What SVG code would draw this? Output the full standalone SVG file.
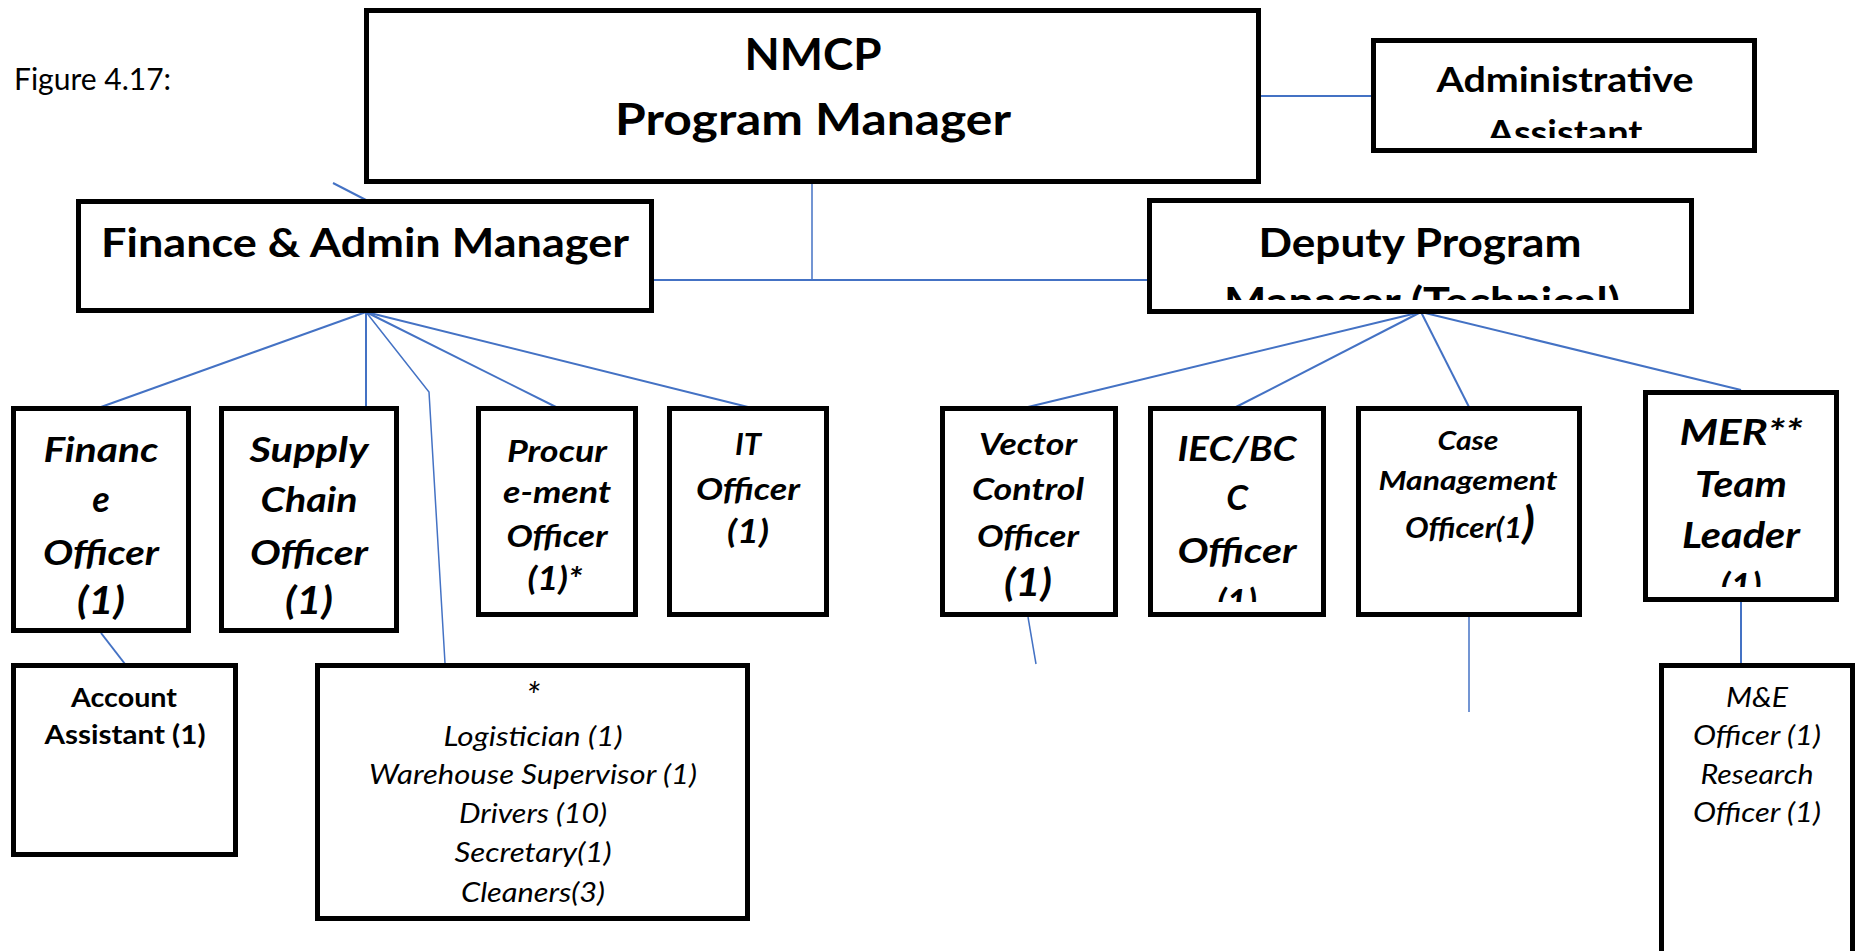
<svg xmlns="http://www.w3.org/2000/svg" width="1859" height="951" viewBox="0 0 1859 951">
<style>
.box{fill:#fff;stroke:#000;stroke-width:5}
.c{stroke:#4472C4;stroke-width:2;fill:none}
text{font-family:Lato,"Liberation Sans",sans-serif;fill:#000;text-anchor:middle}
.b{font-weight:700}
.bi{font-weight:700;font-style:italic}
.i{font-style:italic}
</style>
<defs>
<clipPath id="clipAdmin"><rect x="1376" y="43" width="376" height="95"/></clipPath>
<clipPath id="clipDeputy"><rect x="1152" y="203" width="537" height="97"/></clipPath>
<clipPath id="clipIEC"><rect x="1153" y="411" width="168" height="191"/></clipPath>
<clipPath id="clipMER"><rect x="1648" y="395" width="186" height="192"/></clipPath>
</defs>
<rect width="1859" height="951" fill="#fff"/>
<text x="14" y="90" style="text-anchor:start;font-size:30px">Figure 4.17:</text>
<g id="connectors">
<line class="c" x1="1261" y1="96" x2="1371" y2="96"/>
<line class="c" x1="333" y1="183" x2="366" y2="200"/>
<line class="c" x1="812" y1="184" x2="812" y2="280" style="stroke-width:1.5"/>
<line class="c" x1="654" y1="280" x2="1147" y2="280"/>
<line class="c" x1="366" y1="312" x2="101" y2="407"/>
<line class="c" x1="366" y1="312" x2="366" y2="407"/>
<polyline class="c" points="366,312 429,392 445,663" style="stroke-width:1.5"/>
<line class="c" x1="366" y1="312" x2="556" y2="407"/>
<line class="c" x1="366" y1="312" x2="748" y2="407"/>
<line class="c" x1="101" y1="633" x2="125" y2="664"/>
<line class="c" x1="1421" y1="312" x2="1028" y2="407"/>
<line class="c" x1="1421" y1="312" x2="1236" y2="407"/>
<line class="c" x1="1421" y1="312" x2="1469" y2="407"/>
<line class="c" x1="1421" y1="312" x2="1741" y2="390"/>
<line class="c" x1="1028" y1="617" x2="1036" y2="664" style="stroke-width:1.5"/>
<line class="c" x1="1469" y1="617" x2="1469" y2="712" style="stroke-width:1.5"/>
<line class="c" x1="1741" y1="602" x2="1741" y2="663"/>
</g>
<g id="nmcp">
<rect class="box" x="366.5" y="10.5" width="892" height="171"/>
<text class="b" x="813" y="70" style="font-size:43px" textLength="137" lengthAdjust="spacingAndGlyphs">NMCP</text>
<text class="b" x="813" y="135" style="font-size:43px" textLength="396" lengthAdjust="spacingAndGlyphs">Program Manager</text>
</g>
<g id="admin-assistant">
<rect class="box" x="1373.5" y="40.5" width="381" height="110"/>
<g clip-path="url(#clipAdmin)">
<text class="b" x="1565" y="92" style="font-size:35px" textLength="257" lengthAdjust="spacingAndGlyphs">Administrative</text>
<text class="b" x="1565" y="145" style="font-size:35px" textLength="155" lengthAdjust="spacingAndGlyphs">Assistant</text>
</g>
</g>
<g id="finance-admin-manager">
<rect class="box" x="78.5" y="201.5" width="573" height="109"/>
<text class="b" x="365" y="257" style="font-size:40px" textLength="528" lengthAdjust="spacingAndGlyphs">Finance &amp; Admin Manager</text>
</g>
<g id="deputy">
<rect class="box" x="1149.5" y="200.5" width="542" height="111"/>
<g clip-path="url(#clipDeputy)">
<text class="b" x="1420" y="257" style="font-size:40px" textLength="323" lengthAdjust="spacingAndGlyphs">Deputy Program</text>
<text class="b" x="1422" y="316" style="font-size:40px" textLength="396" lengthAdjust="spacingAndGlyphs">Manager (Technical)</text>
</g>
</g>
<g id="finance-officer">
<rect class="box" x="13.5" y="408.5" width="175" height="222"/>
<text class="bi" x="101" y="462" style="font-size:35px" textLength="115" lengthAdjust="spacingAndGlyphs">Financ</text>
<text class="bi" x="101" y="512" style="font-size:36px">e</text>
<text class="bi" x="101" y="565" style="font-size:35px" textLength="116" lengthAdjust="spacingAndGlyphs">Officer</text>
<text class="bi" x="101" y="614" style="font-size:38px" textLength="48" lengthAdjust="spacingAndGlyphs">(1)</text>
</g>
<g id="supply-chain">
<rect class="box" x="221.5" y="408.5" width="175" height="222"/>
<text class="bi" x="309" y="462" style="font-size:35px" textLength="119" lengthAdjust="spacingAndGlyphs">Supply</text>
<text class="bi" x="309" y="512" style="font-size:35px" textLength="97" lengthAdjust="spacingAndGlyphs">Chain</text>
<text class="bi" x="309" y="565" style="font-size:35px" textLength="118" lengthAdjust="spacingAndGlyphs">Officer</text>
<text class="bi" x="309" y="614" style="font-size:38px" textLength="48" lengthAdjust="spacingAndGlyphs">(1)</text>
</g>
<g id="procurement">
<rect class="box" x="478.5" y="408.5" width="157" height="206"/>
<text class="bi" x="557" y="462" style="font-size:31px" textLength="100" lengthAdjust="spacingAndGlyphs">Procur</text>
<text class="bi" x="557" y="503" style="font-size:31px" textLength="108" lengthAdjust="spacingAndGlyphs">e-ment</text>
<text class="bi" x="557" y="547" style="font-size:31px" textLength="101" lengthAdjust="spacingAndGlyphs">Officer</text>
<text class="bi" x="555" y="590" style="font-size:32px" textLength="55" lengthAdjust="spacingAndGlyphs">(1)*</text>
</g>
<g id="it-officer">
<rect class="box" x="669.5" y="408.5" width="157" height="206"/>
<text class="bi" x="748" y="455" style="font-size:31px">IT</text>
<text class="bi" x="748" y="500" style="font-size:31px" textLength="104" lengthAdjust="spacingAndGlyphs">Officer</text>
<text class="bi" x="748" y="543" style="font-size:32px" textLength="42" lengthAdjust="spacingAndGlyphs">(1)</text>
</g>
<g id="account-assistant">
<rect class="box" x="13.5" y="665.5" width="222" height="189"/>
<text class="b" x="124" y="707" style="font-size:27px" textLength="106" lengthAdjust="spacingAndGlyphs">Account</text>
<text class="b" x="125" y="744" style="font-size:27px" textLength="161" lengthAdjust="spacingAndGlyphs">Assistant (1)</text>
</g>
<g id="logistics-staff">
<rect class="box" x="317.5" y="665.5" width="430" height="253"/>
<text class="i" x="533" y="709" style="font-size:36px">*</text>
<text class="i" x="533" y="746" style="font-size:27px" textLength="179" lengthAdjust="spacingAndGlyphs">Logistician (1)</text>
<text class="i" x="533" y="784" style="font-size:27px" textLength="328" lengthAdjust="spacingAndGlyphs">Warehouse Supervisor (1)</text>
<text class="i" x="533" y="823" style="font-size:27px" textLength="148" lengthAdjust="spacingAndGlyphs">Drivers (10)</text>
<text class="i" x="533" y="862" style="font-size:27px" textLength="157" lengthAdjust="spacingAndGlyphs">Secretary(1)</text>
<text class="i" x="533" y="902" style="font-size:27px" textLength="144" lengthAdjust="spacingAndGlyphs">Cleaners(3)</text>
</g>
<g id="vector-control">
<rect class="box" x="942.5" y="408.5" width="173" height="206"/>
<text class="bi" x="1028" y="455" style="font-size:31px" textLength="98" lengthAdjust="spacingAndGlyphs">Vector</text>
<text class="bi" x="1028" y="500" style="font-size:31px" textLength="112" lengthAdjust="spacingAndGlyphs">Control</text>
<text class="bi" x="1028" y="547" style="font-size:31px" textLength="102" lengthAdjust="spacingAndGlyphs">Officer</text>
<text class="bi" x="1028" y="596" style="font-size:38px" textLength="48" lengthAdjust="spacingAndGlyphs">(1)</text>
</g>
<g id="iec-bcc">
<rect class="box" x="1150.5" y="408.5" width="173" height="206"/>
<g clip-path="url(#clipIEC)">
<text class="bi" x="1237" y="461" style="font-size:35px" textLength="119" lengthAdjust="spacingAndGlyphs">IEC/BC</text>
<text class="bi" x="1237" y="510" style="font-size:35px">C</text>
<text class="bi" x="1237" y="563" style="font-size:35px" textLength="119" lengthAdjust="spacingAndGlyphs">Officer</text>
<text class="bi" x="1237" y="615" style="font-size:36px">(1)</text>
</g>
</g>
<g id="case-management">
<rect class="box" x="1358.5" y="408.5" width="221" height="206"/>
<text class="bi" x="1468" y="450" style="font-size:26px" textLength="61" lengthAdjust="spacingAndGlyphs">Case</text>
<text class="bi" x="1468" y="490" style="font-size:26px" textLength="179" lengthAdjust="spacingAndGlyphs">Management</text>
<text class="bi" x="1470" y="538" style="font-size:29px" textLength="130" lengthAdjust="spacingAndGlyphs">Officer(1<tspan style="font-size:44px">)</tspan></text>
</g>
<g id="mer-team-leader">
<rect class="box" x="1645.5" y="392.5" width="191" height="207"/>
<g clip-path="url(#clipMER)">
<text class="bi" x="1741" y="445" style="font-size:37px" textLength="123" lengthAdjust="spacingAndGlyphs">MER**</text>
<text class="bi" x="1741" y="497" style="font-size:37px" textLength="92" lengthAdjust="spacingAndGlyphs">Team</text>
<text class="bi" x="1741" y="548" style="font-size:37px" textLength="118" lengthAdjust="spacingAndGlyphs">Leader</text>
<text class="bi" x="1741" y="599" style="font-size:37px">(1)</text>
</g>
</g>
<g id="me-research">
<rect class="box" x="1661.5" y="665.5" width="191" height="300"/>
<text class="i" x="1757" y="707" style="font-size:27px" textLength="62" lengthAdjust="spacingAndGlyphs">M&amp;E</text>
<text class="i" x="1757" y="745" style="font-size:27px" textLength="128" lengthAdjust="spacingAndGlyphs">Officer (1)</text>
<text class="i" x="1757" y="784" style="font-size:27px" textLength="113" lengthAdjust="spacingAndGlyphs">Research</text>
<text class="i" x="1757" y="822" style="font-size:27px" textLength="128" lengthAdjust="spacingAndGlyphs">Officer (1)</text>
</g>
</svg>
